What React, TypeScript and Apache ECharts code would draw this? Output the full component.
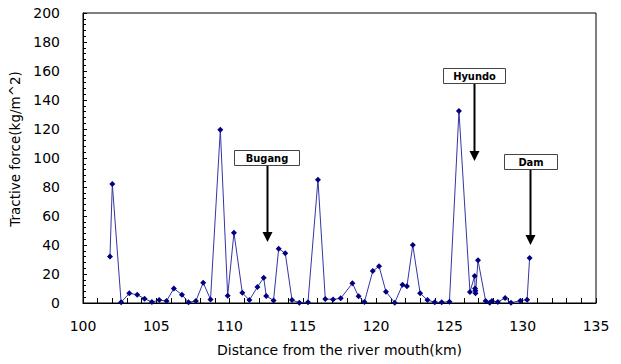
import React, { useEffect, useRef } from "react";
import * as echarts from "echarts";

const distanceKm = [
  101.84, 102.0, 102.6, 103.16, 103.7, 104.2, 104.7, 105.2, 105.7, 106.2, 106.75, 107.2, 107.7, 108.2, 108.7,
  109.37, 109.87, 110.3, 110.87, 111.35, 111.9, 112.33, 112.5, 113.0, 113.35, 113.8, 114.26, 114.76, 115.35,
  116.03, 116.53, 117.06, 117.58, 118.38, 118.8, 119.2, 119.77, 120.2, 120.67, 121.27, 121.8, 122.1, 122.5,
  123.0, 123.5, 124.0, 124.47, 125.0, 125.65, 126.4, 126.72, 126.75, 126.77, 126.78, 126.95, 127.47, 127.75,
  127.9, 128.3, 128.8, 129.2, 129.84, 130.3, 130.47,
];
const tractiveForce = [
  32, 82, 0.5, 6.7, 5.7, 3, 0.7, 2, 1.4, 10, 5.7, 0.5, 1.4, 14, 2.5,
  119.5, 5, 48.5, 7, 2, 11, 17.5, 4.8, 1.8, 37.5, 34.3, 2, 0.2, 0.5,
  85, 2.8, 2.5, 3.2, 13.6, 4.6, 0.7, 22, 25.3, 7.8, 0.2, 12.6, 11.5, 40,
  6.7, 2, 0.5, 0.5, 0.9, 132.4, 7.6, 18.6, 10, 8.5, 6.7, 29.4, 1.4, 0.2,
  1.4, 0.7, 3.4, 0.2, 1.6, 2.3, 31,
];

// annotations: label, arrow x (km), arrow tip (value), box centre (value)
const annotLabels = ["Bugang", "Hyundo", "Dam"];
const annotX = [112.52, 126.7, 130.52];
const annotTip = [42, 98, 40];
const annotBox = [100.5, 157, 97.5];
const annotBoxW = [65, 62, 53];

const xTitle = "Distance from the river mouth(km)";
const yTitle = "Tractive force(kg/m^2)";

export default function App() {
  const ref = useRef<HTMLDivElement>(null);
  useEffect(() => {
    if (!ref.current) return;
    const chart = echarts.init(ref.current, null, { renderer: "svg" });
    const font = "'DejaVu Sans', sans-serif";
    chart.setOption({
      animation: false,
      backgroundColor: "#ffffff",
      grid: {
        left: 83,
        right: 25,
        top: 13,
        bottom: 61,
        show: true,
        borderColor: "#000",
        borderWidth: 1,
        backgroundColor: "transparent",
      },
      xAxis: {
        type: "value",
        min: 100,
        max: 135,
        interval: 5,
        name: xTitle,
        nameLocation: "middle",
        nameGap: 40,
        nameTextStyle: { fontFamily: font, fontSize: 14, color: "#000" },
        axisLine: { lineStyle: { color: "#000", width: 1 } },
        axisTick: { show: true, inside: true, length: 5, lineStyle: { color: "#000" } },
        minorTick: { show: true, splitNumber: 5, length: 5, lineStyle: { color: "#000" } },
        axisLabel: { fontFamily: font, fontSize: 14, color: "#000", margin: 16 },
        splitLine: { show: false },
      },
      yAxis: {
        type: "value",
        min: 0,
        max: 200,
        interval: 20,
        name: yTitle,
        nameLocation: "middle",
        nameRotate: 90,
        nameGap: 53,
        nameTextStyle: { fontFamily: font, fontSize: 13.5, color: "#000", padding: [0, 0, 0, 18] },
        axisLine: { show: true, lineStyle: { color: "#000", width: 1 } },
        axisTick: { show: true, inside: true, length: 4, lineStyle: { color: "#000" } },
        minorTick: { show: true, splitNumber: 5, length: 3, lineStyle: { color: "#000" } },
        axisLabel: { fontFamily: font, fontSize: 14, color: "#000", margin: 23 },
        splitLine: { show: false },
      },
      series: [
        {
          type: "line",
          data: distanceKm.map((x, i) => [x, tractiveForce[i]]),
          symbol: "diamond",
          symbolSize: 6,
          lineStyle: { color: "#3535a5", width: 1 },
          itemStyle: { color: "#000080" },
        },
      ],
    });

    const graphics: any[] = [];
    annotLabels.forEach((label, i) => {
      const tip = chart.convertToPixel({ gridIndex: 0 }, [annotX[i], annotTip[i]]) as number[];
      const box = chart.convertToPixel({ gridIndex: 0 }, [annotX[i], annotBox[i]]) as number[];
      const w = annotBoxW[i];
      const h = 15;
      const bx = Math.round(box[0] - w / 2) + 0.5;
      const by = Math.round(box[1] - h / 2) + 0.5;
      const ax = Math.round(tip[0]) + 0.5;
      graphics.push({
        type: "line",
        shape: { x1: ax, y1: by + h, x2: ax, y2: tip[1] - 8 },
        style: { stroke: "#000", lineWidth: 2 },
        z: 100,
      });
      graphics.push({
        type: "polygon",
        shape: { points: [[ax - 5, tip[1] - 10], [ax + 5, tip[1] - 10], [ax, tip[1]]] },
        style: { fill: "#000" },
        z: 100,
      });
      graphics.push({
        type: "rect",
        shape: { x: bx, y: by, width: w, height: h },
        style: { fill: "#fff", stroke: "#444", lineWidth: 1 },
        z: 101,
      });
      graphics.push({
        type: "text",
        x: bx + w / 2,
        y: by + h / 2 + 0.5,
        style: {
          text: label,
          fill: "#000",
          font: "bold 11px 'DejaVu Sans Condensed', 'DejaVu Sans', sans-serif",
          align: "center",
          verticalAlign: "middle",
        },
        z: 102,
      });
    });
    chart.setOption({ graphic: graphics });

    return () => chart.dispose();
  }, []);
  return (
    <div
      ref={ref}
      style={{ position: "fixed", left: 0, top: 0, width: 621, height: 364, background: "#fff" }}
    />
  );
}
